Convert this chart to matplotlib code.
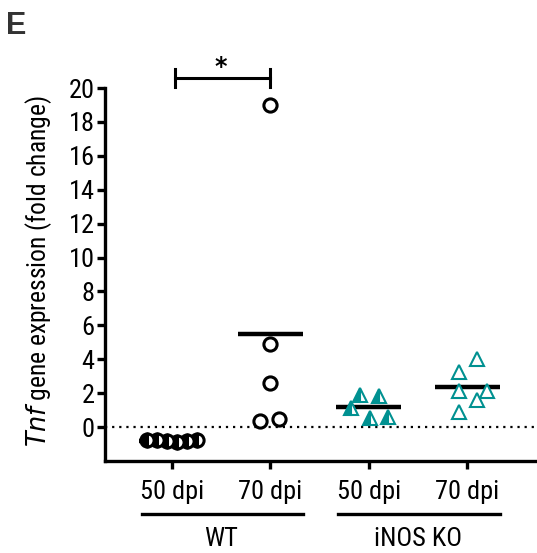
import numpy as np
import matplotlib.pyplot as plt
import matplotlib.transforms as mtransforms

plt.rcParams['font.family'] = ['Roboto Condensed', 'DejaVu Sans']

groups = ['50 dpi', '70 dpi', '50 dpi', '70 dpi']
wt50 = [-0.75, -0.78, -0.82, -0.9, -0.8, -0.78]
wt70 = [19.0, 4.9, 2.6, 0.35, 0.5]
ko50 = [1.89, 1.85, 1.12, 0.53, 0.6]
ko70 = [4.0, 3.26, 2.14, 2.14, 1.59, 0.9]

# horizontal scatter of the points inside each column
jit_wt50 = [-0.25, -0.15, -0.05, 0.05, 0.15, 0.25]
jit_wt70 = [0.0, 0.0, 0.0, -0.1, 0.09]
jit_ko50 = [-0.09, 0.1, -0.18, 0.01, 0.2]
jit_ko70 = [0.105, -0.085, -0.085, 0.2, 0.105, -0.085]

teal = '#009191'

fig = plt.figure(figsize=(5.37, 5.53), dpi=100)
ax = fig.add_axes([105/537, 1-461/553, 430/537, 373/553])

def column(x, vals, jit, **kw):
    xs = [x + j for j in jit]
    ax.plot(xs, vals, linestyle='none', clip_on=False, zorder=3, **kw)
    m = np.mean(vals)
    ax.plot([x-0.33, x+0.33], [m, m], color='black', lw=3.2, zorder=2,
            solid_capstyle='butt')

column(1, wt50, jit_wt50, marker='o', ms=9.5, mew=2.2, mec='black',
       mfc='black', fillstyle='left', markerfacecoloralt='white')
column(2, wt70, jit_wt70, marker='o', ms=9.5, mew=2.2, mec='black', mfc='white')
column(3, ko50, jit_ko50, marker='^', ms=10, mew=1.5, mec=teal,
       mfc=teal, fillstyle='left', markerfacecoloralt='white')
column(4, ko70, jit_ko70, marker='^', ms=10, mew=1.5, mec=teal, mfc='white')

ax.axhline(0, color='black', lw=1.6, ls=(0, (1, 2.2)), zorder=1)

ax.set_xlim(0.32, 4.69)
ax.set_ylim(-2, 20)
ax.set_yticks(range(0, 21, 2))
ax.set_xticks([1, 2, 3, 4])
ax.set_xticklabels(groups)
for s in ['top', 'right']:
    ax.spines[s].set_visible(False)
for s in ['left', 'bottom']:
    ax.spines[s].set_linewidth(2.4)
ax.tick_params(axis='both', width=2.4, length=6, labelsize=19, color='black')
ax.tick_params(axis='x', pad=8)
ax.tick_params(axis='y', pad=1.5)
ax.set_ylabel(r'$\it{Tnf}$ gene expression (fold change)', fontsize=18.4)
ax.yaxis.set_label_coords(-0.118, 0.51)

# significance bracket
ax.plot([1.03, 2.0], [20.6, 20.6], color='black', lw=2.2, clip_on=False)
ax.plot([1.03, 1.03], [20.05, 21.15], color='black', lw=2.2, clip_on=False)
ax.plot([2.0, 2.0], [20.05, 21.15], color='black', lw=2.2, clip_on=False)
ax.text(1.5, 20.55, '*', ha='center', va='bottom', fontsize=17, fontweight='bold',
        family='DejaVu Sans')

# group underlines and names
trans = mtransforms.blended_transform_factory(ax.transData, ax.transAxes)
ax.plot([0.695, 2.333], [-0.142, -0.142], color='black', lw=2.4,
        transform=trans, clip_on=False)
ax.plot([2.689, 4.337], [-0.142, -0.142], color='black', lw=2.4,
        transform=trans, clip_on=False)
ax.text(1.5, -0.21, 'WT', transform=trans, ha='center', va='center', fontsize=19)
ax.text(3.5, -0.21, 'iNOS KO', transform=trans, ha='center', va='center', fontsize=19)

fig.text(6/537, 1-26/553, 'E', fontsize=22, fontweight='bold', color='#333333',
         va='center', family='Liberation Sans')

fig.savefig('out.png', dpi=100)
